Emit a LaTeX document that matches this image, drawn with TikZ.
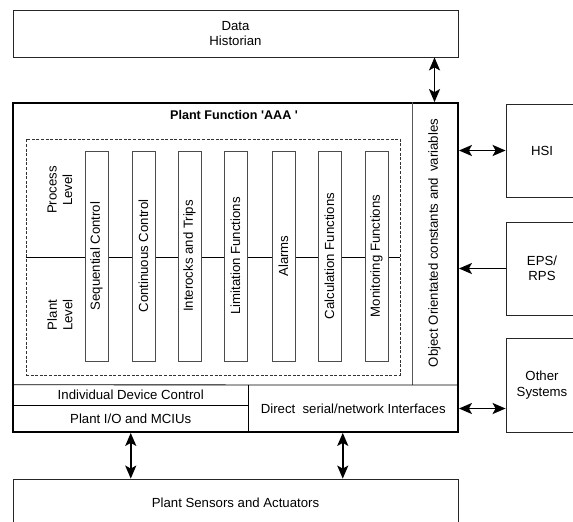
\documentclass[tikz,border=0pt]{standalone}
\usepackage{fontspec}
\setmainfont{Liberation Sans}
\usetikzlibrary{arrows.meta,calc}
\begin{document}
\begin{tikzpicture}[x=1pt,y=-1pt,
  font=\fontsize{13.2}{15.5}\selectfont,
  box/.style={draw=black!85, line width=0.8pt, inner sep=0pt, align=center},
  cell/.style={inner sep=0pt, align=center},
  func/.style={draw=black!70, fill=white, line width=0.8pt, rotate=90, inner sep=0pt,
    minimum width=210pt, minimum height=23pt},
  vlabel/.style={rotate=90, inner sep=0pt, align=center},
  thin/.style={line width=0.8pt},
  tip/.tip={Stealth[length=13pt,width=11pt,inset=3pt]},
  link/.style={line width=1.8pt, tip-tip},
  inlink/.style={line width=1.8pt, tip-}]
\useasboundingbox (0,0) rectangle (573,522);
\clip (0,0) rectangle (573,522);

% external systems
\node[box, minimum width=445pt, minimum height=47pt] (hist) at (235.5,33.5) {Data\\Historian};
\node[box, minimum width=72pt, minimum height=93pt] (hsi) at (542,150.5) {HSI};
\node[box, minimum width=72pt, minimum height=93pt] (eps) at (542,268.5) {EPS/\\RPS};
\node[box, minimum width=72pt, minimum height=94pt] (other) at (542,385) {Other\\Systems};
\node[box, minimum width=445pt, minimum height=48pt] (sensors) at (235.5,503) {Plant Sensors and Actuators};

% plant function block: levels and function bars
\node[draw=black!80, line width=0.6pt, dash pattern=on 3pt off 1.6pt,
  minimum width=374pt, minimum height=236pt, inner sep=0pt] (levels) at (213,257) {};
\draw[thin] (levels.west) -- (levels.east);
\node[vlabel] (proc) at (60,190) {Process\\Level};
\node[vlabel] (plant) at (60,315) {Plant\\Level};
\foreach \x/\name/\txt in {96.5/seq/Sequential Control, 143.5/cont/Continuous Control,
    189.5/trip/Interocks and Trips, 235.5/lim/Limitation Functions, 283.5/alarm/Alarms,
    329.5/calc/Calculation Functions, 376.5/mon/Monitoring Functions}
  \node[func] (\name) at (\x,256) {\txt};

% object data column
\node[vlabel] (objtxt) at (434.5,243) {Object Orientated constants and \,variables};
\coordinate (divbot) at (412,385);

% lower interface cells
\node[cell, minimum width=235.5pt, minimum height=20pt] (idc) at (130.75,395) {Individual Device Control};
\node[cell, minimum width=235.5pt, minimum height=27pt] (pio) at (130.75,418.5) {Plant I/O and MCIUs};
\node[cell, minimum width=209.5pt, minimum height=47pt] (direct) at (353.25,408.5) {Direct \ serial/network Interfaces};

% main frame and its partitions
\node[draw, line width=1.8pt, minimum width=445pt, minimum height=329pt, inner sep=0pt] (main) at (235.5,267.5) {};
\node[font=\bfseries\fontsize{12.6}{15}\selectfont, inner sep=0pt] (title) at (234,115)
  {Plant Function \textquotesingle AAA \textquotesingle};
\draw[thin, black!65] (divbot |- main.north) -- (divbot);
\draw[thin] (idc.north west -| main.west) -- (divbot -| main.east);
\draw[thin] (idc.south west -| main.west) -- (idc.south east);
\draw[thin] (direct.north west) -- (direct.south west |- main.south);

% connections
\draw[link] (hist.south -| objtxt) -- (main.north -| objtxt);
\draw[link] (main.east |- hsi.west) -- (hsi.west);
\draw[inlink] (main.east |- eps.west) -- (eps.west);
\draw[link] (main.east |- direct.east) -- (other.west |- direct.east);
\draw[link] (pio.south |- main.south) -- (pio.south |- sensors.north);
\coordinate (dlink) at ($(direct.south west)!0.45!(direct.south east)$);
\draw[link] (dlink |- main.south) -- (dlink |- sensors.north);
\end{tikzpicture}
\end{document}
